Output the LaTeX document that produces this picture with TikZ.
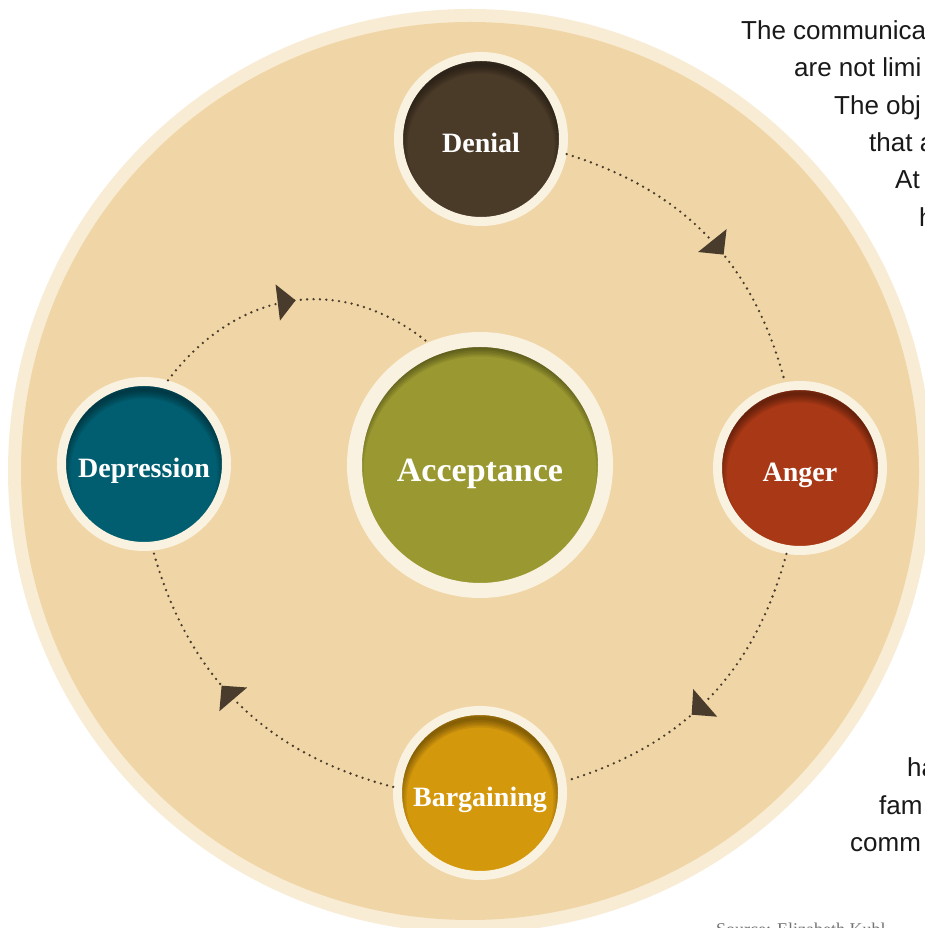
\documentclass[tikz,border=0pt]{standalone}
\usepackage{fontspec}
\setmainfont{Liberation Serif}
\newfontfamily\bodyfont{Liberation Sans}
\usetikzlibrary{arrows.meta, decorations.markings}
\definecolor{paper}{HTML}{F0D6A6}
\definecolor{paperrim}{HTML}{F8ECD4}
\definecolor{stagerim}{HTML}{FAF2E1}
\definecolor{denialc}{HTML}{4A3A28}
\definecolor{angerc}{HTML}{A83816}
\definecolor{bargainc}{HTML}{D4980C}
\definecolor{depressc}{HTML}{005E70}
\definecolor{acceptc}{HTML}{9A9830}
\definecolor{ink}{HTML}{4A3C2C}

\begin{document}
\begin{tikzpicture}[x=1pt, y=1pt,
	stage/.style={circle, draw=stagerim, line width=9pt, minimum size=#1, inner sep=0pt,
		text=white, font=\bfseries\fontsize{28}{28}\selectfont, text height=28pt, text depth=0pt,
		path picture={
			\foreach \w in {3,6,...,18}
			\draw[black, opacity=0.07, line width=\w pt] ([yshift=-8pt]path picture bounding box.center) circle[radius=#1/2];
		}},
	stage/.default=165,
	flow/.style={ink, line width=2.6pt, line cap=round, dash pattern=on 0pt off 6.4pt,
		postaction={decorate}, decoration={markings,
			mark=at position #1 with {\arrow{Triangle[length=18pt,width=36pt]}}}},
	flow/.default=0.57,
	side/.style={anchor=base west, inner sep=0pt, text=black!90,
		font=\bodyfont\fontsize{26}{26}\selectfont}]
	\useasboundingbox (0,0) rectangle (925,928);
	\fill[white] (0,0) rectangle (925,928);
	\clip (0,0) rectangle (925,928);
	% paper disc
	\fill[paperrim] (470,457) circle[radius=462];
	\fill[paper] (470,457) circle[radius=449];
	% the stages
	\node[stage, fill=denialc] (denial) at (481,789) {Denial};
	\node[stage, fill=angerc] (anger) at (800,460) {Anger};
	\node[stage, fill=bargainc] (bargaining) at (480,135) {Bargaining};
	\node[stage, fill=depressc] (depression) at (144,464) {Depression};
	\node[stage=251, line width=15pt, fill=acceptc, text height=34pt,
		font=\bfseries\fontsize{34}{34}\selectfont] (acceptance) at (480,463) {Acceptance};
	% dotted cycle
	\draw[flow] (denial.-10) to[bend left=29] (anger.100);
	\draw[flow] (anger.-99) to[bend left=29] (bargaining.8);
	\draw[flow] (bargaining.176) to[bend left=30] (depression.-84);
	\draw[flow=0.52] (depression.74) to[out=53, in=141, looseness=1.1] (acceptance.113);
	% text running beside the disc
	\foreach \x/\y/\t [count=\i] in {741/888/The communica, 794/851/are not limi,
		834/813/The obj, 869/776/that a, 895/739/At, 919/701/h,
		907/151/ha, 879/113/fam, 850/76/comm}
		\node[side] (line\i) at (\x,\y) {\t};
	\node[anchor=base west, inner sep=0pt, text=black!55,
		font=\fontsize{18}{18}\selectfont] (source) at (716,-8) {Source: Elizabeth Kubl};
\end{tikzpicture}
\end{document}
